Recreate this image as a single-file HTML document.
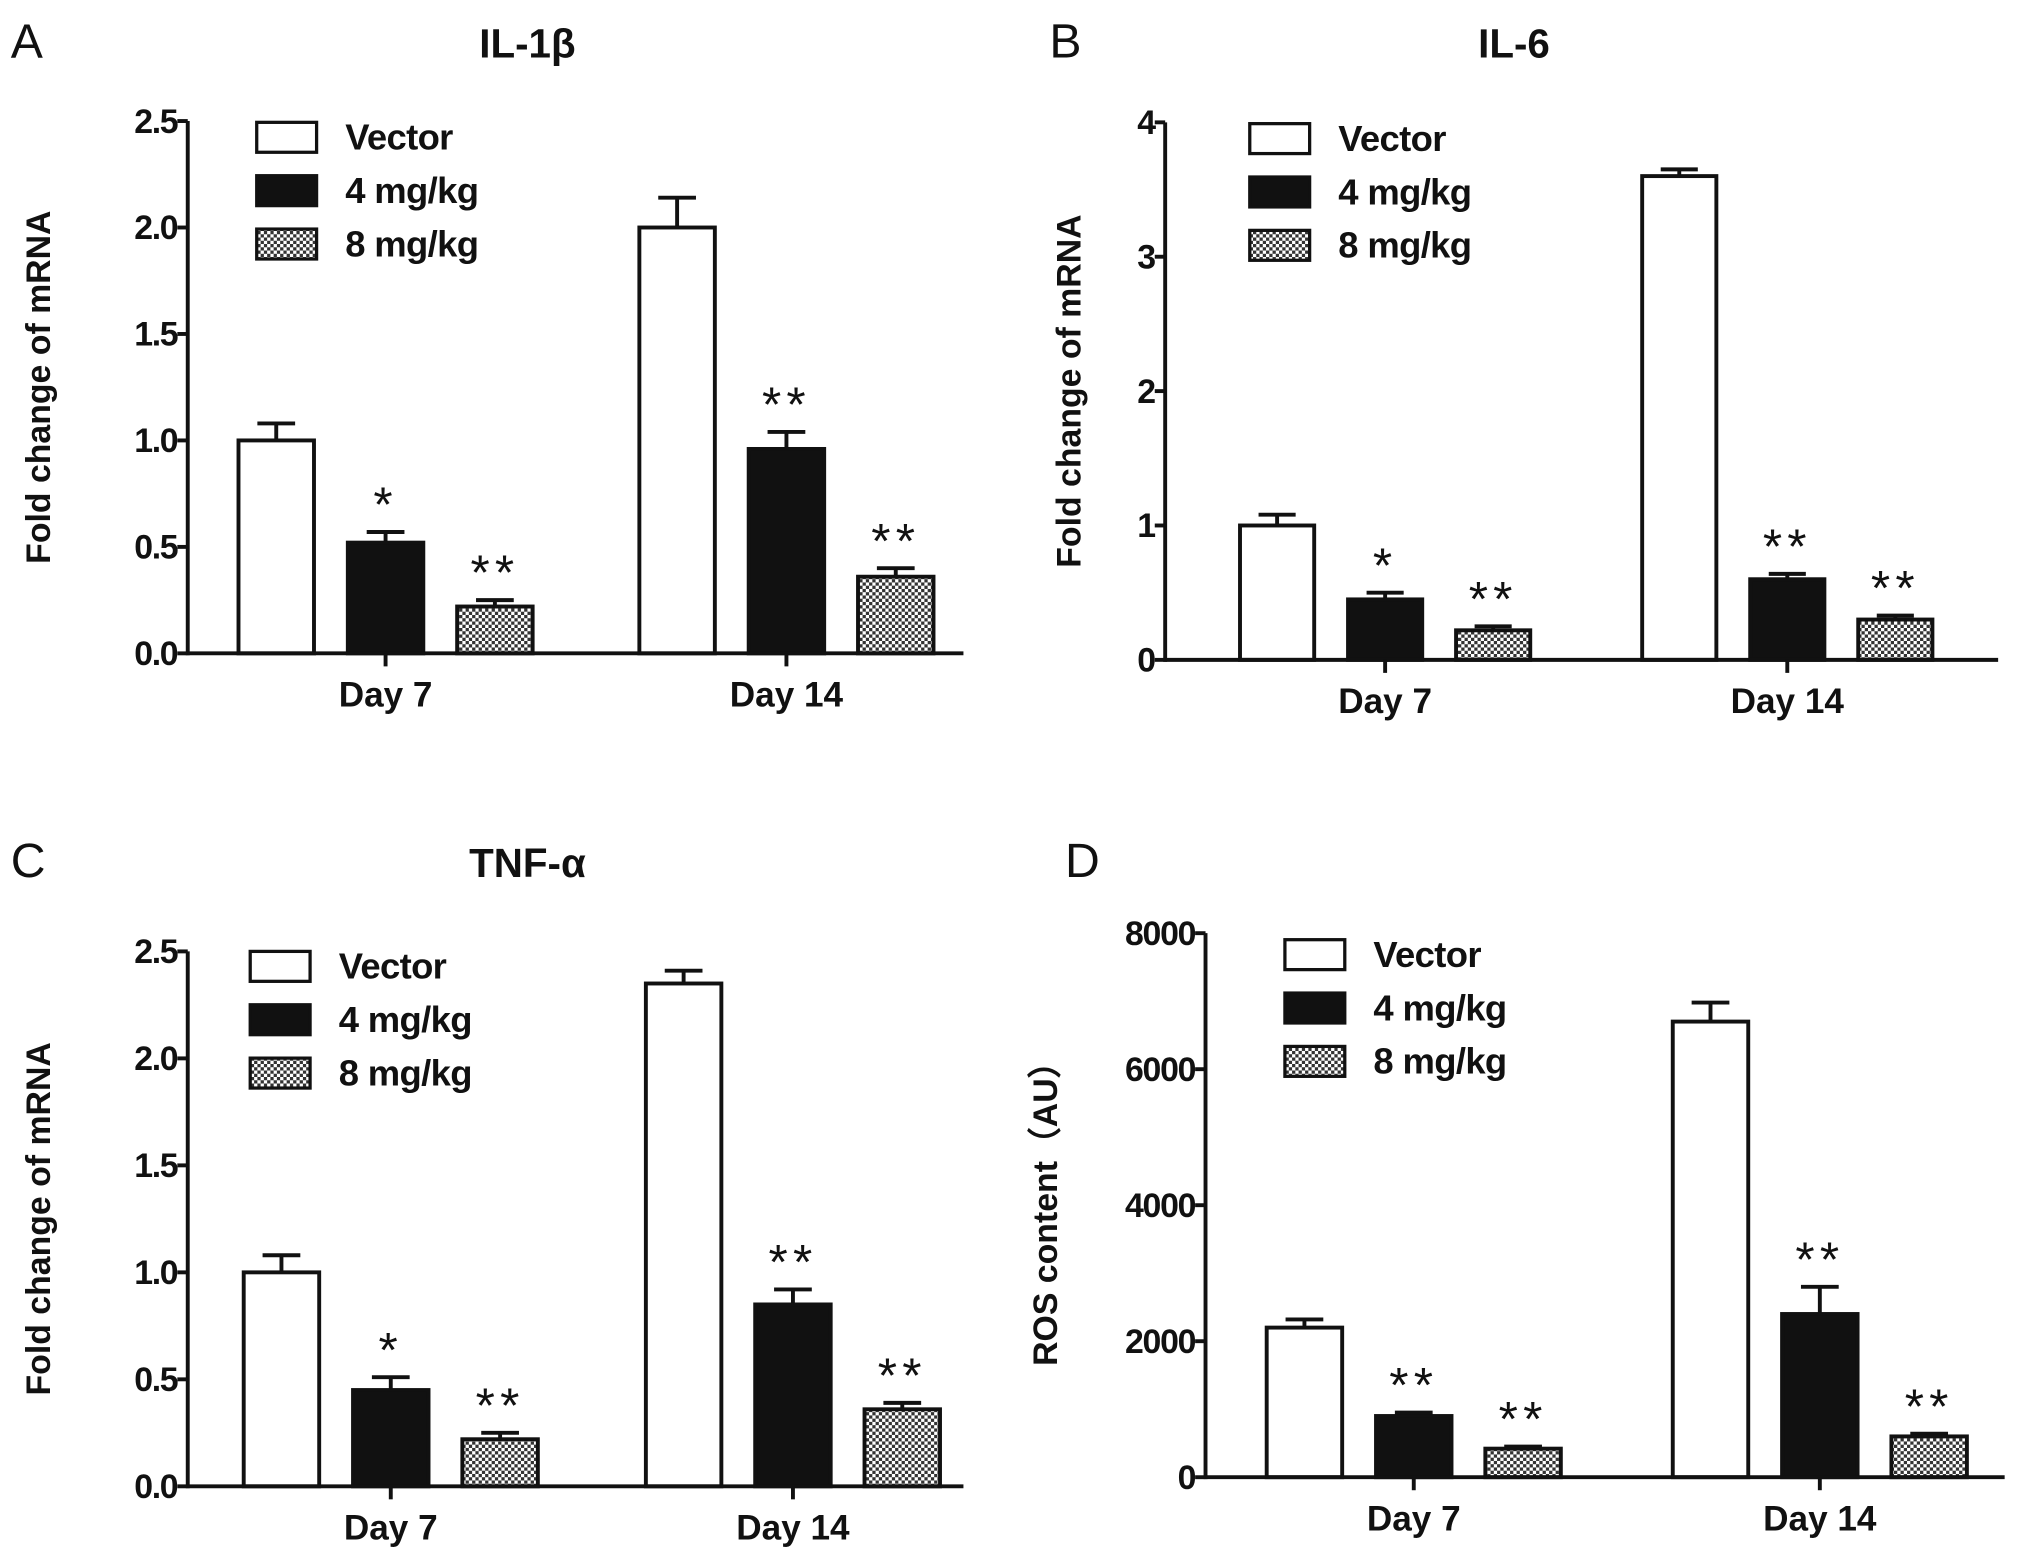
<!DOCTYPE html>
<html><head><meta charset="utf-8"><style>
html,body{margin:0;padding:0;background:#fff;}
svg{display:block;}
text{font-family:"Liberation Sans",Arial,sans-serif;fill:#111;}
</style></head><body>
<svg id="fig" width="2031" height="1554" viewBox="0 0 1560 1194" xmlns="http://www.w3.org/2000/svg">
<defs>
<pattern id="chk" width="5" height="5" patternUnits="userSpaceOnUse">
<rect width="5" height="5" fill="#fff"/><rect width="2.5" height="2.5" fill="#333"/><rect x="2.5" y="2.5" width="2.5" height="2.5" fill="#333"/>
</pattern>
</defs>
</svg>
<script>
const groups = ["Day 7","Day 14"];
const series = ["Vector","4 mg/kg","8 mg/kg"];
const aVals = [[1.0,0.52,0.22],[2.0,0.96,0.36]];
const aErr = [[0.08,0.05,0.03],[0.14,0.08,0.04]];
const aStars = [["","*","**"],["","**","**"]];
const aTicks = ["0.0","0.5","1.0","1.5","2.0","2.5"];
const bVals = [[1.0,0.45,0.22],[3.6,0.6,0.3]];
const bErr = [[0.08,0.05,0.03],[0.05,0.04,0.03]];
const bStars = [["","*","**"],["","**","**"]];
const bTicks = ["0","1","2","3","4"];
const cVals = [[1.0,0.45,0.22],[2.35,0.85,0.36]];
const cErr = [[0.08,0.06,0.03],[0.06,0.07,0.03]];
const cStars = [["","*","**"],["","**","**"]];
const cTicks = ["0.0","0.5","1.0","1.5","2.0","2.5"];
const dVals = [[2200,900,420],[6700,2400,600]];
const dErr = [[120,50,30],[280,400,40]];
const dStars = [["","**","**"],["","**","**"]];
const dTicks = ["0","2000","4000","6000","8000"];

const NS="http://www.w3.org/2000/svg";
const svg=document.getElementById('fig');
function mk(tag,attrs,parent){const e=document.createElementNS(NS,tag);for(const k in attrs)e.setAttribute(k,attrs[k]);(parent||svg).appendChild(e);return e;}
const fills=["#fff","#111","url(#chk)"];

function panel(cfg,vals,errs,stars,ticks){
  const g=mk('g',{});
  
  
  const maxV=parseFloat(ticks[ticks.length-1]);
  const y=v=>cfg.y0-(v/maxV)*(cfg.y0-cfg.yTop);
  const xc=gi=>cfg.g0+gi*cfg.gs;
  let t=mk('text',{x:cfg.lx,y:cfg.ly,'font-size':37,style:'font-weight:normal'},g);t.textContent=cfg.letter;
  
  if(cfg.title){t=mk('text',{x:cfg.tx,y:cfg.ly,'font-size':31,'text-anchor':'middle',style:'font-weight:bold'},g);t.textContent=cfg.title;
  }
  const ym=(cfg.y0+cfg.yTop)/2;
  t=mk('text',{x:cfg.ylx,y:ym,'font-size':26,'text-anchor':'middle',style:'font-weight:bold',transform:`rotate(-90 ${cfg.ylx} ${ym})`},g);t.textContent=cfg.ylabel;
  
  vals.forEach((gv,gi)=>{gv.forEach((v,si)=>{
    const cx=xc(gi)+(si-1)*cfg.step;
    const x0=cx-cfg.bw/2;
    const eTop=y(v+errs[gi][si]);
    const l=mk('line',{x1:cx,x2:cx,y1:y(v),y2:eTop,stroke:'#111','stroke-width':3},g);
    
    const c=mk('line',{x1:cx-cfg.bw/4,x2:cx+cfg.bw/4,y1:eTop,y2:eTop,stroke:'#111','stroke-width':3},g);
    
    const r=mk('rect',{x:x0,y:y(v),width:cfg.bw,height:cfg.y0-y(v),fill:fills[si],stroke:'#111','stroke-width':3},g);
    
    if(stars[gi][si]){const s=mk('text',{x:cx,y:eTop-8,'font-size':38,style:'font-weight:normal','text-anchor':'middle','letter-spacing':4},g);s.textContent=stars[gi][si];
      }
  });});
  const ya=mk('line',{x1:cfg.ax,x2:cfg.ax,y1:cfg.yTop,y2:cfg.y0+1.5,stroke:'#111','stroke-width':3},g);
  
  const xa=mk('line',{x1:cfg.ax,x2:cfg.xEnd,y1:cfg.y0,y2:cfg.y0,stroke:'#111','stroke-width':3},g);
  
  ticks.forEach(tk=>{const yy=y(parseFloat(tk));
    const l=mk('line',{x1:cfg.ax-8,x2:cfg.ax,y1:yy,y2:yy,stroke:'#111','stroke-width':3},g);
    
    const tt=mk('text',{x:cfg.ax-8,y:yy+9,'font-size':26,'text-anchor':'end',style:'font-weight:bold','letter-spacing':-1},g);tt.textContent=tk;
    });
  groups.forEach((gname,gi)=>{const xx=xc(gi);
    const l=mk('line',{x1:xx,x2:xx,y1:cfg.y0,y2:cfg.y0+10,stroke:'#111','stroke-width':3},g);
    
    const tt=mk('text',{x:xx,y:cfg.y0+41,'font-size':27,'text-anchor':'middle',style:'font-weight:bold'},g);tt.textContent=gname;
    });
  series.forEach((s,si)=>{const ly=cfg.legY+si*41;
    const r=mk('rect',{x:cfg.legX,y:ly-11,width:46,height:23,fill:fills[si],stroke:'#111','stroke-width':2.5},g);
    
    const tt=mk('text',{x:cfg.legX+68,y:ly+10,'font-size':28,style:'font-weight:bold','letter-spacing':-0.5},g);tt.textContent=s;
    });
}
panel({id:'panel-a',letter:'A',title:'IL-1β',lx:8,ly:44,tx:405,ax:144,xEnd:740,y0:502,yTop:93,g0:296,gs:308,step:84,bw:58,ylx:38,ylabel:'Fold change of mRNA',legX:197,legY:105},aVals,aErr,aStars,aTicks);
panel({id:'panel-b',letter:'B',title:'IL-6',lx:806,ly:44,tx:1163,ax:895,xEnd:1535,y0:507,yTop:94,g0:1064,gs:309,step:83,bw:57,ylx:830,ylabel:'Fold change of mRNA',legX:960,legY:106},bVals,bErr,bStars,bTicks);
panel({id:'panel-c',letter:'C',title:'TNF-α',lx:8,ly:674,tx:405,ax:144,xEnd:740,y0:1142,yTop:731,g0:300,gs:309,step:84,bw:58,ylx:38,ylabel:'Fold change of mRNA',legX:192,legY:742},cVals,cErr,cStars,cTicks);
panel({id:'panel-d',letter:'D',title:'',lx:818,ly:674,tx:0,ax:926,xEnd:1540,y0:1135,yTop:717,g0:1086,gs:312,step:84,bw:58,ylx:812,ylabel:'ROS content（AU）',legX:987,legY:733},dVals,dErr,dStars,dTicks);
</script>
</body></html>
